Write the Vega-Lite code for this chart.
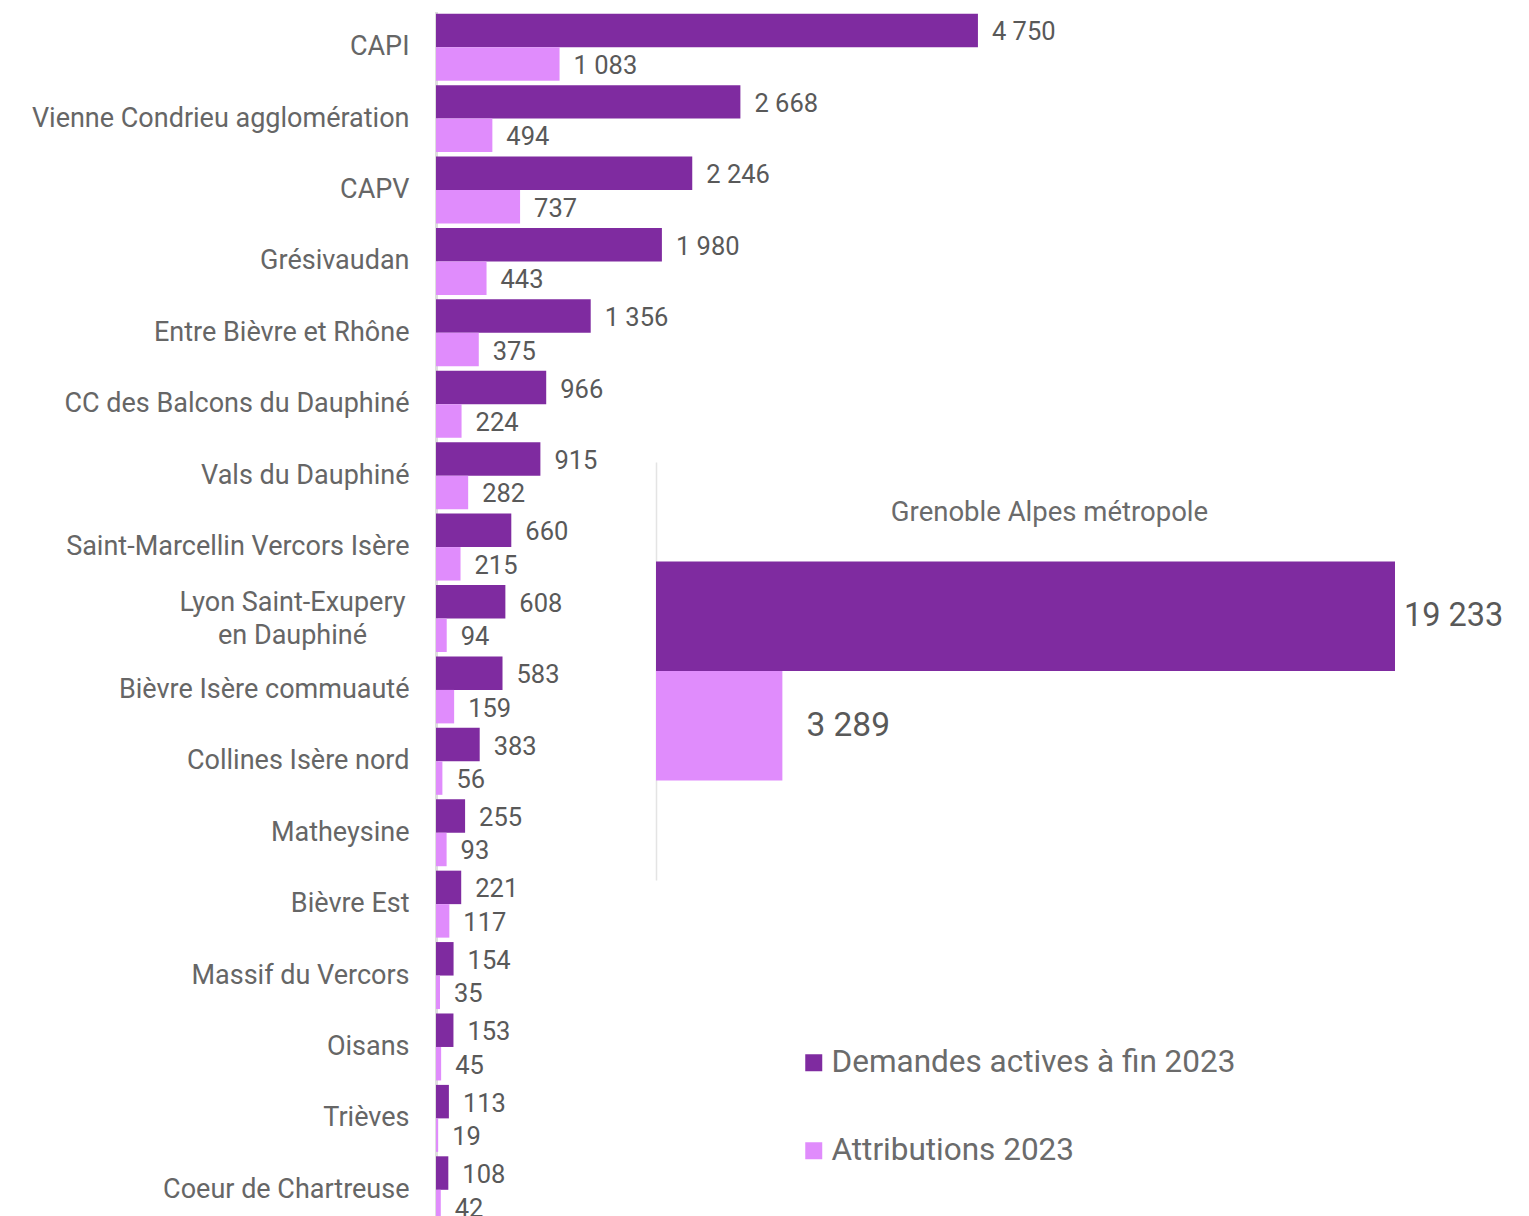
{
  "$schema": "https://vega.github.io/schema/vega-lite/v6.json",
  "width": 1093,
  "height": 1216,
  "autosize": {"type": "none"},
  "padding": {"left": 436, "top": 0, "right": 0, "bottom": 0},
  "background": "white",
  "config": {
    "view": {"stroke": null},
    "font": "Roboto",
    "locale": {"number": {"decimal": ",", "thousands": "\u00a0", "grouping": [3], "currency": ["", "\u00a0€"]}}
  },
  "datasets": {
    "left": [
      {"region": "CAPI", "series": "Demandes actives à fin 2023", "value": 4750},
      {"region": "CAPI", "series": "Attributions 2023", "value": 1083},
      {"region": "Vienne Condrieu agglomération", "series": "Demandes actives à fin 2023", "value": 2668},
      {"region": "Vienne Condrieu agglomération", "series": "Attributions 2023", "value": 494},
      {"region": "CAPV", "series": "Demandes actives à fin 2023", "value": 2246},
      {"region": "CAPV", "series": "Attributions 2023", "value": 737},
      {"region": "Grésivaudan", "series": "Demandes actives à fin 2023", "value": 1980},
      {"region": "Grésivaudan", "series": "Attributions 2023", "value": 443},
      {"region": "Entre Bièvre et Rhône", "series": "Demandes actives à fin 2023", "value": 1356},
      {"region": "Entre Bièvre et Rhône", "series": "Attributions 2023", "value": 375},
      {"region": "CC des Balcons du Dauphiné", "series": "Demandes actives à fin 2023", "value": 966},
      {"region": "CC des Balcons du Dauphiné", "series": "Attributions 2023", "value": 224},
      {"region": "Vals du Dauphiné", "series": "Demandes actives à fin 2023", "value": 915},
      {"region": "Vals du Dauphiné", "series": "Attributions 2023", "value": 282},
      {"region": "Saint-Marcellin Vercors Isère", "series": "Demandes actives à fin 2023", "value": 660},
      {"region": "Saint-Marcellin Vercors Isère", "series": "Attributions 2023", "value": 215},
      {"region": "Lyon Saint-Exupery en Dauphiné", "series": "Demandes actives à fin 2023", "value": 608},
      {"region": "Lyon Saint-Exupery en Dauphiné", "series": "Attributions 2023", "value": 94},
      {"region": "Bièvre Isère commuauté", "series": "Demandes actives à fin 2023", "value": 583},
      {"region": "Bièvre Isère commuauté", "series": "Attributions 2023", "value": 159},
      {"region": "Collines Isère nord", "series": "Demandes actives à fin 2023", "value": 383},
      {"region": "Collines Isère nord", "series": "Attributions 2023", "value": 56},
      {"region": "Matheysine", "series": "Demandes actives à fin 2023", "value": 255},
      {"region": "Matheysine", "series": "Attributions 2023", "value": 93},
      {"region": "Bièvre Est", "series": "Demandes actives à fin 2023", "value": 221},
      {"region": "Bièvre Est", "series": "Attributions 2023", "value": 117},
      {"region": "Massif du Vercors", "series": "Demandes actives à fin 2023", "value": 154},
      {"region": "Massif du Vercors", "series": "Attributions 2023", "value": 35},
      {"region": "Oisans", "series": "Demandes actives à fin 2023", "value": 153},
      {"region": "Oisans", "series": "Attributions 2023", "value": 45},
      {"region": "Trièves", "series": "Demandes actives à fin 2023", "value": 113},
      {"region": "Trièves", "series": "Attributions 2023", "value": 19},
      {"region": "Coeur de Chartreuse", "series": "Demandes actives à fin 2023", "value": 108},
      {"region": "Coeur de Chartreuse", "series": "Attributions 2023", "value": 42}
    ],
    "inset": [
      {"region": "Grenoble Alpes métropole", "series": "Demandes actives à fin 2023", "value": 19233},
      {"region": "Grenoble Alpes métropole", "series": "Attributions 2023", "value": 3289}
    ]
  },
  "layer": [
    {
      "data": {"name": "left"},
      "encoding": {
        "y": {
          "field": "region", "type": "nominal", "sort": null,
          "scale": {"range": [11.5, 1225.5], "paddingInner": 0.062, "paddingOuter": 0.031},
          "axis": {
            "orient": "left", "title": null, "ticks": false,
            "domainColor": "#dedede", "domainWidth": 3,
            "labelFont": "Roboto", "labelFontSize": 27, "labelColor": "#666666",
            "labelPadding": {"condition": {"test": "datum.value == 'Lyon Saint-Exupery en Dauphiné'", "value": 144}, "value": 27},
            "labelAlign": {"condition": {"test": "datum.value == 'Lyon Saint-Exupery en Dauphiné'", "value": "center"}, "value": "right"},
            "labelOffset": {"condition": {"test": "datum.value == 'Lyon Saint-Exupery en Dauphiné'", "value": -16}, "value": 0},
            "labelLimit": 0, "labelLineHeight": 33,
            "labelExpr": "datum.label == 'Lyon Saint-Exupery en Dauphiné' ? ['Lyon Saint-Exupery', 'en Dauphiné'] : datum.label"
          }
        },
        "x": {
          "field": "value", "type": "quantitative",
          "scale": {"domain": [0, 9580], "nice": false, "zero": true},
          "axis": null
        },
        "yOffset": {
          "field": "series", "type": "nominal",
          "sort": ["Demandes actives à fin 2023", "Attributions 2023"],
          "scale": {"paddingInner": 0, "paddingOuter": 0}
        }
      },
      "layer": [
        {
          "mark": {"type": "bar"},
          "encoding": {
            "color": {
              "field": "series", "type": "nominal",
              "sort": ["Demandes actives à fin 2023", "Attributions 2023"],
              "scale": {"domain": ["Demandes actives à fin 2023", "Attributions 2023"], "range": ["#7f2ba0", "#e08cfc"]},
              "legend": {
                "title": null, "orient": "none", "legendX": 362, "legendY": 1047, "padding": 0,
                "direction": "vertical",
                "symbolType": "square", "symbolSize": 289, "symbolStrokeWidth": 0,
                "labelFont": "Roboto", "labelFontSize": 31.5, "labelColor": "#6b6b6b",
                "labelOffset": 2, "rowPadding": 55, "labelLimit": 0
              }
            }
          }
        },
        {
          "mark": {"type": "text", "align": "left", "baseline": "middle", "dx": 14, "dy": 2, "fontSize": 25.5, "font": "Roboto", "color": "#595959"},
          "encoding": {"text": {"field": "value", "type": "quantitative", "format": ",d"}}
        }
      ]
    },
    {
      "data": {"name": "inset"},
      "encoding": {
        "y": {
          "field": "region", "type": "nominal",
          "scale": {"range": [462, 880], "paddingInner": 0, "paddingOuter": 0.454},
          "axis": {
            "orient": "left", "offset": -220, "title": null, "ticks": false, "labels": false,
            "domainColor": "#e4e4e4", "domainWidth": 1.5
          }
        },
        "x": {
          "field": "value", "type": "quantitative",
          "scale": {"domain": [0, 19233], "range": [220, 959], "nice": false, "zero": true},
          "axis": {
            "orient": "top", "labels": false, "ticks": false, "domain": false, "grid": false,
            "title": "Grenoble Alpes métropole",
            "titleX": 613, "titleY": 512, "titleAlign": "center", "titleBaseline": "middle",
            "titleFont": "Roboto", "titleFontSize": 27.5, "titleFontWeight": "normal", "titleColor": "#6b6b6b"
          }
        },
        "yOffset": {
          "field": "series", "type": "nominal",
          "sort": ["Demandes actives à fin 2023", "Attributions 2023"],
          "scale": {"paddingInner": 0, "paddingOuter": 0}
        }
      },
      "layer": [
        {
          "mark": {"type": "bar"},
          "encoding": {
            "color": {"field": "series", "type": "nominal", "sort": ["Demandes actives à fin 2023", "Attributions 2023"]}
          }
        },
        {
          "transform": [{"filter": "datum.series == 'Demandes actives à fin 2023'"}],
          "mark": {"type": "text", "align": "left", "baseline": "middle", "dx": 9, "fontSize": 32.5, "font": "Roboto", "color": "#595959"},
          "encoding": {"text": {"field": "value", "type": "quantitative", "format": ",d"}}
        },
        {
          "transform": [{"filter": "datum.series == 'Attributions 2023'"}],
          "mark": {"type": "text", "align": "left", "baseline": "middle", "dx": 24, "fontSize": 33.5, "font": "Roboto", "color": "#595959"},
          "encoding": {"text": {"field": "value", "type": "quantitative", "format": ",d"}}
        }
      ]
    }
  ],
  "resolve": {
    "scale": {"x": "independent", "y": "independent", "yOffset": "independent"},
    "axis": {"x": "independent", "y": "independent"}
  }
}
